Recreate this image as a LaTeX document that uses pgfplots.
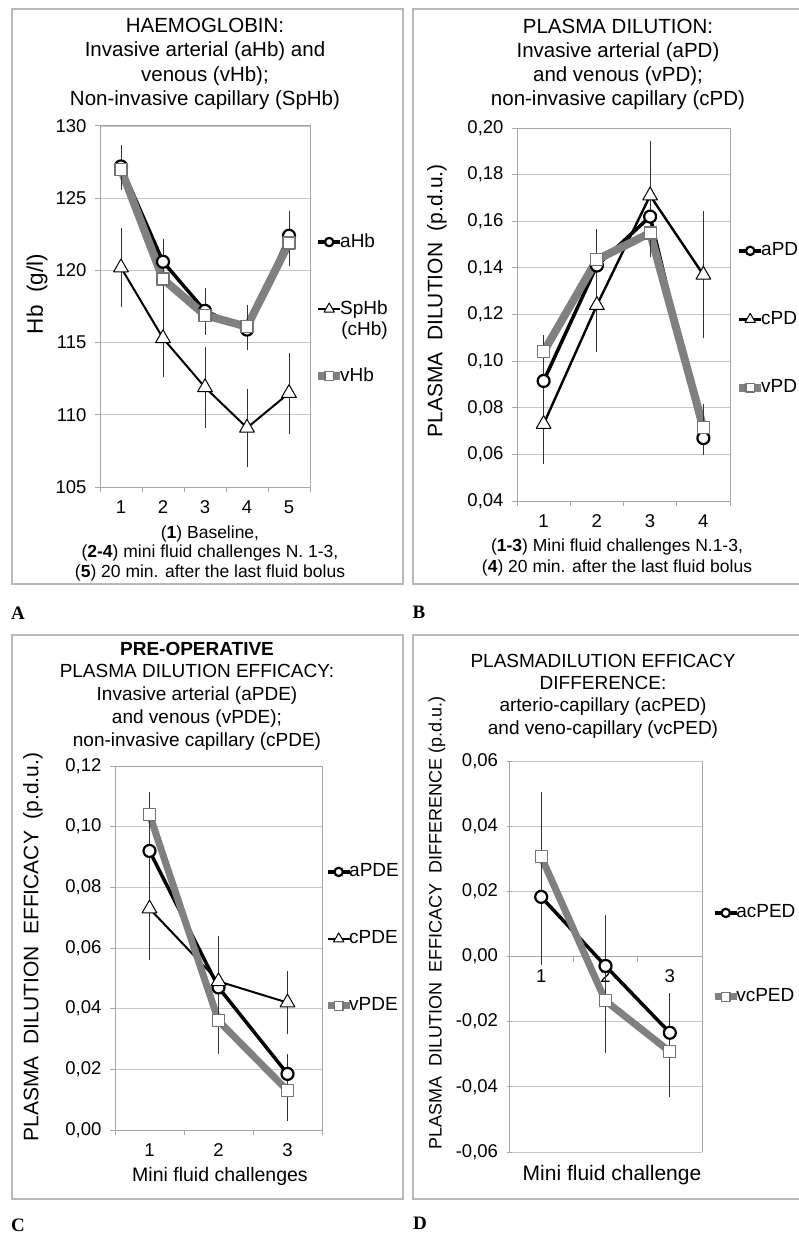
\documentclass[border=0pt]{standalone}
\usepackage{fontspec}
\setmainfont{Liberation Sans}
\newfontfamily\serifbf{Liberation Serif}
\usepackage{pgfplots}
\pgfplotsset{compat=1.18}

\pgfplotsset{
  excel/.style={
    scale only axis, anchor=south west, clip=false,
    axis line style={draw=gray!70, line width=1pt},
    ymajorgrids, grid style={draw=gray!45, line width=0.9pt},
    tick pos=left, tick align=outside, major tick length=5pt,
    tick style={draw=gray!70, line width=1pt},
    tick label style={font=\fontsize{18.5}{21}\selectfont},
    yticklabel style={xshift=-5pt},
    xticklabel style={yshift=-10pt},
    /pgf/number format/assume math mode=true,
    scaled y ticks=false,
    xticklabels={},
    extra x tick style={major tick length=0pt},
    legend cell align=left,
    legend style={draw=none, fill=none, inner sep=0pt, anchor=west,
      font=\fontsize{19}{22}\selectfont,
      nodes={inner sep=0pt, text height=14pt, text depth=4pt},
      /tikz/every odd column/.append style={column sep=-4pt}},
    legend image code/.code={
      \draw[##1, mark=none] (0pt,0pt) -- (22pt,0pt);
      \draw[##1, every mark/.append style={scale=0.7}] plot coordinates {(11pt,0pt)};
    },
    error bars/y dir=both, error bars/y explicit,
    error bars/error bar style={line width=0.8pt, black!80, solid},
    error bars/error mark options={line width=0.8pt, black!80, mark size=3pt},
  },
  comma/.style={yticklabel style={/pgf/number format/.cd, fixed, fixed zerofill, precision=2, use comma}},
  circ/.style={black, line width=3.5pt, line join=round, mark=*, mark size=6pt,
    mark options={fill=white, draw=black, line width=2.2pt}},
  tri/.style={black, line width=2pt, line join=round, mark=triangle*, mark size=8.5pt,
    mark options={fill=white, draw=black, line width=1pt}},
  sq/.style={black!50, line width=8pt, line join=round, mark=square*, mark size=6pt,
    mark options={fill=white, draw=black!55, line width=1.2pt}},
}

\begin{document}
\begin{tikzpicture}
\useasboundingbox (0pt,0pt) rectangle (799pt,-1233pt);
% panel frames
\draw[gray!55, line width=1.4pt] (12pt,-9pt) rectangle (403pt,-584pt);
\draw[gray!55, line width=1.4pt] (413pt,-9pt) rectangle (820pt,-584pt);
\draw[gray!55, line width=1.4pt] (12pt,-635pt) rectangle (403pt,-1199pt);
\draw[gray!55, line width=1.4pt] (413pt,-635pt) rectangle (820pt,-1199pt);

% ---------------- A
\begin{axis}[excel, at={(100pt,-487pt)}, width=210pt, height=361pt,
  xmin=0.5, xmax=5.5, ymin=105, ymax=130,
  xtick={0.5,1.5,...,5.5}, extra x ticks={1,2,3,4,5}, extra x tick labels={1,2,3,4,5},
  ytick={105,110,...,130},
  legend style={at={(1.019,0.493)}, row sep=49pt}]
\addplot[circ] coordinates {(1,127.2) +- (0,1.3) (2,120.6) +- (0,1.4) (3,117.2) +- (0,1.4) (4,115.9) +- (0,1.2) (5,122.4) +- (0,1.5)};
\addlegendentry{aHb}
\addplot[tri] coordinates {(1,120.2) +- (0,2.5) (2,115.3) +- (0,2.5) (3,111.9) +- (0,2.6) (4,109.1) +- (0,2.5) (5,111.5) +- (0,2.6)};
\addlegendentry{SpHb\llap{\raisebox{-21pt}[0pt][0pt]{(cHb)}}}
\addplot[sq] coordinates {(1,127.0) +- (0,1.2) (2,119.4) +- (0,1.3) (3,116.9) +- (0,1.2) (4,116.1) +- (0,1.3) (5,121.9) +- (0,1.4)};
\addlegendentry{vHb}
\end{axis}

% ---------------- B
\begin{axis}[excel, comma, at={(517pt,-501pt)}, width=213pt, height=373pt,
  xmin=0.5, xmax=4.5, ymin=0.04, ymax=0.20,
  xtick={0.5,1.5,...,4.5}, extra x ticks={1,2,3,4}, extra x tick labels={1,2,3,4},
  ytick={0.04,0.06,0.08,0.10,0.12,0.14,0.16,0.18,0.20},
  legend style={at={(1.0235,0.487)}, row sep=50.5pt}]
\addplot[circ] coordinates {(1,0.0915) +- (0,0.008) (2,0.141) +- (0,0.011) (3,0.162) +- (0,0.007) (4,0.067) +- (0,0.006)};
\addlegendentry{aPD}
\addplot[tri, line width=2.4pt] coordinates {(1,0.073) +- (0,0.016) (2,0.124) +- (0,0.019) (3,0.171) +- (0,0.022) (4,0.137) +- (0,0.026)};
\addlegendentry{cPD}
\addplot[sq] coordinates {(1,0.104) +- (0,0.006) (2,0.1435) +- (0,0.012) (3,0.155) +- (0,0.009) (4,0.0715) +- (0,0.009)};
\addlegendentry{vPD}
\end{axis}

% ---------------- C
\begin{axis}[excel, comma, at={(115pt,-1130pt)}, width=207pt, height=364pt,
  xmin=0.5, xmax=3.5, ymin=0, ymax=0.12,
  xtick={0.5,1.5,2.5,3.5}, extra x ticks={1,2,3}, extra x tick labels={1,2,3},
  ytick={0,0.02,0.04,0.06,0.08,0.10,0.12},
  legend style={at={(1.0097,0.525)}, row sep=49pt}]
\addplot[circ] coordinates {(1,0.092) +- (0,0.008) (2,0.047) +- (0,0.008) (3,0.0185) +- (0,0.0055)};
\addlegendentry{aPDE}
\addplot[tri] coordinates {(1,0.073) +- (0,0.016) (2,0.049) +- (0,0.014) (3,0.042) +- (0,0.0095)};
\addlegendentry{cPDE}
\addplot[sq, line width=7pt] coordinates {(1,0.104) +- (0,0.0065) (2,0.036) +- (0,0.010) (3,0.013) +- (0,0.009)};
\addlegendentry{vPDE}
\end{axis}

% ---------------- D
\begin{axis}[excel, comma, at={(509pt,-1152pt)}, width=193pt, height=391pt,
  xmin=0.5, xmax=3.5, ymin=-0.06, ymax=0.06,
  axis x line=middle, axis y line=left,
  every inner x axis line/.append style={-},
  every outer y axis line/.append style={-},
  xtick=\empty, extra x ticks={1,2,3}, extra x tick labels={1,2,3},
  ytick={-0.06,-0.04,-0.02,0,0.02,0.04,0.06},
  legend style={at={(1.047,0.504)}, row sep=66pt}]
\draw[gray!70, line width=1pt] (rel axis cs:1,0) -- (rel axis cs:1,1);
\draw[gray!70, line width=1pt] (axis cs:1.5,0) -- ++(0pt,-5pt);
\draw[gray!70, line width=1pt] (axis cs:2.5,0) -- ++(0pt,-5pt);
\addplot[circ] coordinates {(1,0.0183) +- (0,0.020) (2,-0.0029) +- (0,0.0147) (3,-0.0234) +- (0,0.0114)};
\addlegendentry{acPED}
\addplot[sq, line width=7pt] coordinates {(1,0.0306) +- (0,0.019) (2,-0.0136) +- (0,0.015) (3,-0.0292) +- (0,0.013)};
\addlegendentry{vcPED}
\end{axis}

% titles
\node[align=center, font=\fontsize{20.5}{24.3}\selectfont] at (205pt,-64pt)
  {HAEMOGLOBIN:\\Invasive arterial (aHb) and\\venous (vHb);\\Non-invasive capillary (SpHb)};
\node[align=center, font=\fontsize{20.5}{24}\selectfont] at (618pt,-64pt)
  {PLASMA DILUTION:\\Invasive arterial (aPD)\\and venous (vPD);\\non-invasive capillary (cPD)};
\node[align=center, font=\fontsize{19}{22.8}\selectfont] at (197pt,-696pt)
  {\textbf{PRE-OPERATIVE}\\PLASMA DILUTION EFFICACY:\\Invasive arterial (aPDE)\\and venous (vPDE);\\non-invasive capillary (cPDE)};
\node[align=center, font=\fontsize{19}{22.4}\selectfont] at (603pt,-696pt)
  {PLASMADILUTION EFFICACY\\DIFFERENCE:\\arterio-capillary (acPED)\\and veno-capillary (vcPED)};

% x labels
\node[align=center, font=\fontsize{17.5}{19.5}\selectfont] at (210pt,-553pt)
  {(\textbf{1}) Baseline,\\(\textbf{2-4}) mini fluid challenges N. 1-3,\\(\textbf{5}) 20 min. after the last fluid bolus};
\node[align=center, font=\fontsize{17.5}{21}\selectfont] at (617pt,-557pt)
  {(\textbf{1-3}) Mini fluid challenges N.1-3,\\(\textbf{4}) 20 min. after the last fluid bolus};
\node[font=\fontsize{19.5}{22}\selectfont] at (220pt,-1176pt) {Mini fluid challenges};
\node[font=\fontsize{21}{24}\selectfont] at (612pt,-1175pt) {Mini fluid challenge};

% y labels
\node[rotate=90, font=\fontsize{22.5}{25}\selectfont] at (37pt,-294pt) {Hb\ \ (g/l)};
\node[rotate=90, font=\fontsize{21}{24}\selectfont] at (437pt,-301pt) {PLASMA\ \ DILUTION\ \ (p.d.u.)};
\node[rotate=90, font=\fontsize{21}{24}\selectfont] at (33pt,-947pt) {PLASMA\ \ DILUTION\ \ EFFICACY\ \ (p.d.u.)};
\node[rotate=90, font=\fontsize{18}{21}\selectfont] at (437pt,-923pt) {PLASMA\ \ DILUTION\ \ EFFICACY\ \ DIFFERENCE (p.d.u.)};

% panel letters
\node[font=\serifbf\bfseries\fontsize{19}{22}\selectfont] at (18pt,-613pt) {A};
\node[font=\serifbf\bfseries\fontsize{19}{22}\selectfont] at (419pt,-612pt) {B};
\node[font=\serifbf\bfseries\fontsize{19}{22}\selectfont] at (18pt,-1225pt) {C};
\node[font=\serifbf\bfseries\fontsize{19}{22}\selectfont] at (420pt,-1223pt) {D};
\end{tikzpicture}
\end{document}
